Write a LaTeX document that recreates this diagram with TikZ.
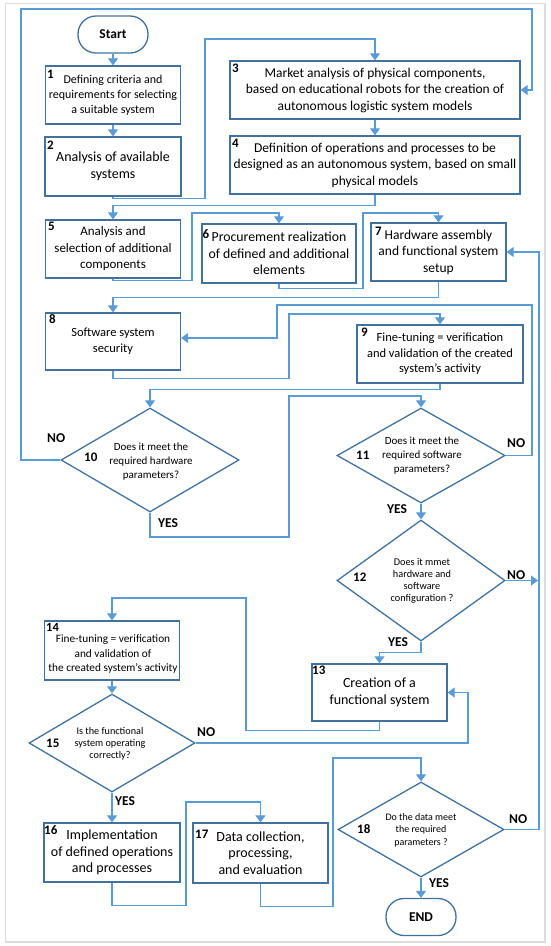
\documentclass[tikz,border=0pt]{standalone}
\usepackage{fontspec}
\setmainfont{Carlito}
\usetikzlibrary{shapes.geometric,arrows.meta}
\definecolor{boxc}{RGB}{65,113,156}
\definecolor{connc}{RGB}{91,155,213}
\definecolor{framec}{RGB}{220,220,220}
\begin{document}
\begin{tikzpicture}[x=1pt,y=-1pt,
  box/.style={draw=boxc, line width=1.3pt, align=center, inner sep=0pt},
  term/.style={draw=boxc, line width=1.3pt, rounded corners=18pt, minimum width=70pt, minimum height=37pt, inner sep=0pt, font=\bfseries\fontsize{13.5}{16}\selectfont},
  dia/.style={draw=boxc, line width=1.3pt, diamond, inner sep=0pt},
  dtext/.style={align=center, inner sep=0pt},
  num/.style={anchor=base west, inner sep=0pt, font=\bfseries\fontsize{13}{13}\selectfont},
  lab/.style={anchor=base west, inner sep=0pt, font=\bfseries\fontsize{13.5}{13.5}\selectfont},
  conn/.style={draw=connc, line width=1.2pt, -{Triangle[width=10pt,length=7pt]}},
]
\useasboundingbox (0,0) rectangle (550,946);
\draw[framec, line width=1.5pt] (5.5,3.5) rectangle (545,942);

% terminals
\node[term] (start) at (113,34.5) {Start};
\node[term] (stop) at (421,917) {END};

% boxes
\node[box, minimum width=135pt, minimum height=58pt, font=\fontsize{12}{15}\selectfont] (b1) at (113,95) {Defining criteria and\\requirements for selecting\\a suitable system};
\node[box, minimum width=136pt, minimum height=59pt, font=\fontsize{14}{17}\selectfont] (b2) at (113,166.5) {Analysis of available\\systems};
\node[box, minimum width=290pt, minimum height=58pt, font=\fontsize{13.5}{16.5}\selectfont] (b3) at (375,90) {Market analysis of physical components,\\based on educational robots for the creation of\\autonomous logistic system models};
\node[box, minimum width=290pt, minimum height=58pt, font=\fontsize{13.5}{16.5}\selectfont] (b4) at (375,165) {Definition of operations and processes to be\\designed as an autonomous system, based on small\\physical models};
\node[box, minimum width=135pt, minimum height=58pt, font=\fontsize{13}{16.5}\selectfont] (b5) at (113,249) {Analysis and\\selection of additional\\components};
\node[box, minimum width=154pt, minimum height=59pt, font=\fontsize{13.8}{16.5}\selectfont] (b6) at (279,253.5) {Procurement realization\\of defined and additional\\elements};
\node[box, minimum width=135pt, minimum height=58pt, font=\fontsize{13.5}{16.5}\selectfont] (b7) at (438.5,252) {Hardware assembly\\and functional system\\setup};
\node[box, minimum width=135pt, minimum height=57pt, font=\fontsize{12.5}{16}\selectfont] (b8) at (113,341.5) {Software system\\security};
\node[box, minimum width=166pt, minimum height=58pt, font=\fontsize{12.5}{15.5}\selectfont] (b9) at (440,354) {Fine-tuning = verification\\and validation of the created\\system's activity};
\node[box, minimum width=135pt, minimum height=57pt, font=\fontsize{14}{17}\selectfont] (b13) at (379.5,692.5) {Creation of a\\functional system};
\node[box, minimum width=135pt, minimum height=59pt] (b14) at (112,650.5) {};
\node[dtext, font=\fontsize{11.3}{14.5}\selectfont] (t14) at (113,654) {Fine-tuning = verification\\and validation of\\the created system's activity};
\node[box, minimum width=136pt, minimum height=59pt, font=\fontsize{14}{16.5}\selectfont] (b16) at (112,852.5) {Implementation\\of defined operations\\and processes};
\node[box, minimum width=135pt, minimum height=60pt, font=\fontsize{14}{16.5}\selectfont] (b17) at (260.5,853) {Data collection,\\processing,\\and evaluation};

% diamonds
\node[dia, minimum width=178pt, minimum height=104pt] (d10) at (150,460) {};
\node[dtext, font=\fontsize{11}{14}\selectfont] (t10) at (151,462) {Does it meet the\\required hardware\\parameters?};
\node[dia, minimum width=168pt, minimum height=95pt] (d11) at (421,455.5) {};
\node[dtext, font=\fontsize{11}{14}\selectfont] (t11) at (422,456) {Does it meet the\\required software\\parameters?};
\node[dia, minimum width=168pt, minimum height=121pt] (d12) at (421,580.5) {};
\node[dtext, font=\fontsize{10.3}{12}\selectfont] (t12) at (422,581) {Does it mmet\\hardware and\\software\\configuration ?};
\node[dia, minimum width=166pt, minimum height=98pt] (d15) at (112,743) {};
\node[dtext, font=\fontsize{10.2}{12}\selectfont] (t15) at (110,744) {Is the functional\\system operating\\correctly?};
\node[dia, minimum width=166pt, minimum height=95pt] (d18) at (421,829.5) {};
\node[dtext, font=\fontsize{10}{12.5}\selectfont] (t18) at (421,830) {Do the data meet\\the required\\parameters ?};

% numbers
\node[num] (n1) at (47,78) {1};
\node[num] (n2) at (47,149) {2};
\node[num] (n3) at (232,72) {3};
\node[num] (n4) at (232,147) {4};
\node[num] (n5) at (48,230) {5};
\node[num] (n6) at (202.5,238) {6};
\node[num] (n7) at (375,235) {7};
\node[num] (n8) at (49,323) {8};
\node[num] (n9) at (361,336) {9};
\node[num] (n10) at (84,461) {10};
\node[num] (n11) at (356,459) {11};
\node[num] (n12) at (353,581) {12};
\node[num] (n13) at (312,674) {13};
\node[num, font=\bfseries\fontsize{12.5}{12.5}\selectfont] (n14) at (46,631) {14};
\node[num] (n15) at (46,747) {15};
\node[num] (n16) at (44,834) {16};
\node[num] (n17) at (195,838) {17};
\node[num] (n18) at (357,833) {18};

% yes / no labels
\node[lab] (no10) at (47,442) {NO};
\node[lab] (yes10) at (158,527) {YES};
\node[lab] (no11) at (507,447) {NO};
\node[lab] (yes11) at (387,513) {YES};
\node[lab] (no12) at (507,579) {NO};
\node[lab] (yes12) at (388,646) {YES};
\node[lab] (no15) at (197,736) {NO};
\node[lab] (yes15) at (115,805) {YES};
\node[lab] (no18) at (509,823) {NO};
\node[lab] (yes18) at (429,887) {YES};

\coordinate (m12) at (538,580.5);
\coordinate (y338) at (0,338);

% connectors
\draw[conn] (start) -- (b1);
\draw[conn] (b1) -- (b2);
\draw[conn] (b2.south) -- ++(0,2) -| (205,39) -| (b3.north);
\draw[conn] (b3) -- (b4);
\draw[conn] (b4.south) -- ++(0,11) -| (b5.north);
\draw[conn] (b5.south) -- ++(0,2) -| (192,213) -| (b6.north);
\draw[conn] (b6.south) -- ++(0,5) -| (363,213) -| (b7.north);
\draw[conn] (b7.south) -- ++(0,16) -| (b8.north);
\draw[conn] (b8.south) -- ++(0,8) -| (289,314) -| (b9.north);
\draw[conn] (b9.south) -- ++(0,6) -| (d10.north);
\draw[conn] (d10.west) -| (21,9) -| (532,90) -- (b3.east);
\draw[conn] (d10.south) |- (289,537) -- (289,396) -| (d11.north);
\draw[conn] (d11.east) -| (532,305) -| (277,338) -- (b8.east |- y338);
\draw[conn] (d11) -- (d12);
\draw[conn] (d12.east) -- (m12);
\draw[conn] (d12.south) -- ++(0,11) -| (b13.north);
\draw[conn] (b13.south) -- ++(0,9) -| (246,598) -| (b14.north);
\draw[conn] (b14) -- (d15);
\draw[conn] (d15.east) -| (468,692.5) -- (b13.east);
\draw[conn] (d15) -- (b16);
\draw[conn] (b16.south) -- ++(0,23) -| (186,802) -| (b17.north);
\draw[conn] (b17.south) -- ++(0,23) -| (333,758) -| (d18.north);
\draw[conn] (d18.east) -| (539,252) -- (b7.east);
\draw[conn] (d18) -- (stop);
\end{tikzpicture}
\end{document}
